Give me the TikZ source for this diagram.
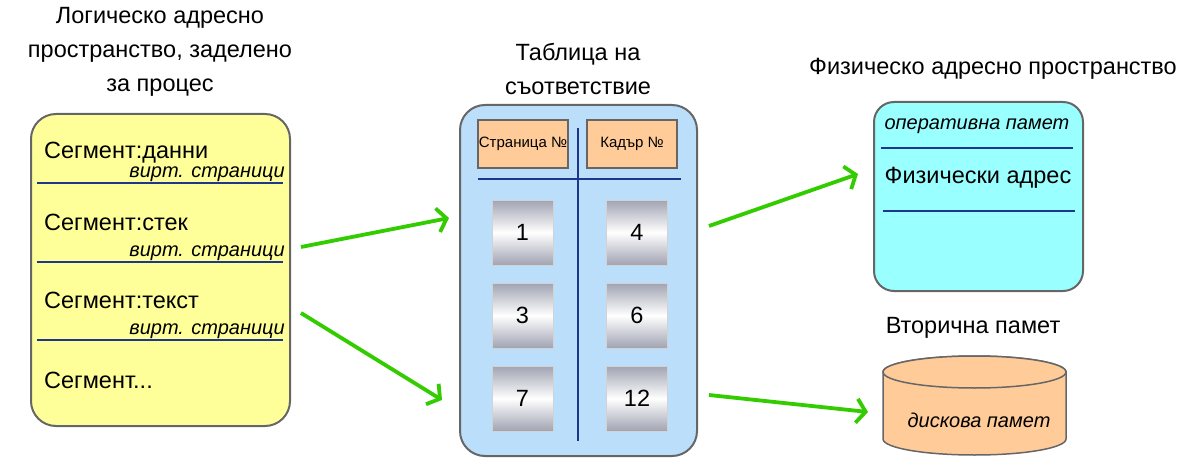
\documentclass[tikz,border=0pt]{standalone}
\usepackage{fontspec}
\setmainfont{Liberation Sans}
\usetikzlibrary{arrows.meta}

\definecolor{segyellow}{RGB}{255,255,153}
\definecolor{tableblue}{RGB}{187,222,251}
\definecolor{headpeach}{RGB}{255,204,153}
\definecolor{memcyan}{RGB}{153,255,255}
\definecolor{bordergray}{RGB}{102,102,102}
\definecolor{lineblue}{RGB}{30,55,140}
\definecolor{arrowgreen}{RGB}{51,204,0}
\definecolor{metalgray}{RGB}{160,163,178}

\tikzset{
  panel/.style={draw=bordergray, line width=2pt, inner sep=0pt},
  headbox/.style={draw=bordergray, line width=1.5pt, fill=headpeach, minimum width=90pt, minimum height=48pt, inner sep=0pt, font=\fontsize{15}{17}\selectfont},
  cellbox/.style={draw=gray!35, line width=0.6pt, top color=metalgray, bottom color=metalgray, middle color=white, minimum width=61pt, minimum height=65pt, inner sep=0pt, font=\fontsize{23.5}{27}\selectfont},
  divline/.style={lineblue, line width=2pt},
  greenarrow/.style={arrowgreen, line width=3.8pt, -{Straight Barb[length=9pt,width=24pt]}},
  title/.style={align=center, inner sep=0pt, font=\fontsize{23.5}{34}\selectfont},
  bigtext/.style={inner sep=0pt, font=\fontsize{23.5}{27}\selectfont},
  smalltext/.style={inner sep=0pt, font=\fontsize{20}{22}\selectfont\itshape}
}

\begin{document}
\begin{tikzpicture}[x=1pt, y=-1pt]
\useasboundingbox (0,0) rectangle (1189,476);

    %titles
    \node[title] (logtitle) at (160,52) {Логическо адресно\\пространство, заделено\\за процес};
    \node[title] (tabtitle) at (578,69) {Таблица на\\съответствие};
    \node[title] (phystitle) at (993,69) {Физическо адресно пространство};
    \node[title] (sectitle) at (973,328) {Вторична памет};

    %logical address space
    \node[panel, fill=segyellow, rounded corners=25pt, minimum width=259pt, minimum height=312pt] (logic) at (160.5,270) {};
    \node[bigtext, anchor=west] (segdata) at (44,153) {Сегмент:данни};
    \node[smalltext, anchor=east] (virt1) at (285,174.5) {вирт. страници};
    \draw[divline] (37,183) -- (283,183);
    \node[bigtext, anchor=west] (segstack) at (44,222) {Сегмент:стек};
    \node[smalltext, anchor=east] (virt2) at (285,253.5) {вирт. страници};
    \draw[divline] (37,262) -- (283,262);
    \node[bigtext, anchor=west] (segtext) at (44,300) {Сегмент:текст};
    \node[smalltext, anchor=east] (virt3) at (285,331.5) {вирт. страници};
    \draw[divline] (37,340) -- (283,340);
    \node[bigtext, anchor=west] (segmore) at (44,380) {Сегмент...};

    %page table
    \node[panel, fill=tableblue, rounded corners=25pt, minimum width=237pt, minimum height=351pt] (table) at (578.5,280.5) {};
    \node[headbox] (pagehead) at (523,144) {Страница №};
    \node[headbox] (framehead) at (632,144) {Кадър №};
    \draw[divline] (478,179) -- (681,179);
    \draw[divline] (578,128) -- (578,441);
    \foreach \pg/\fr [count=\i] in {1/4,3/6,7/12} {
        \node[cellbox] (page\i) at (522.5,{149.5+83*\i}) {\pg};
        \node[cellbox] (frame\i) at (637,{149.5+83*\i}) {\fr};
    }

    %physical memory
    \node[panel, fill=memcyan, rounded corners=20pt, minimum width=209pt, minimum height=189pt] (phys) at (978.5,196.5) {};
    \node[smalltext] (ram) at (977,126) {оперативна памет};
    \draw[divline] (881,148) -- (1073,148);
    \node[bigtext] (physaddr) at (978,178) {Физически адрес};
    \draw[divline] (883,211) -- (1075,211);

    %disk
    \filldraw[fill=headpeach, draw=bordergray, line width=1.5pt] (883,372) -- (883,439) arc[start angle=180, end angle=0, x radius=91.5, y radius=16] -- (1066,372) arc[start angle=0, end angle=-180, x radius=91.5, y radius=16] -- cycle;
    \filldraw[fill=headpeach, draw=bordergray, line width=1.5pt] (974.5,372) ellipse[x radius=91.5, y radius=16];
    \node[smalltext] (disk) at (979,420) {дискова памет};

    %arrows
    \coordinate (a1s) at (301,247);
    \coordinate (a1e) at (449,218);
    \coordinate (a2s) at (301,313);
    \coordinate (a2e) at (442,400);
    \coordinate (a3s) at (709,226);
    \coordinate (a3e) at (858,174);
    \coordinate (a4s) at (709,395);
    \coordinate (a4e) at (868,412);
    \draw[greenarrow] (a1s) -- (a1e);
    \draw[greenarrow] (a2s) -- (a2e);
    \draw[greenarrow] (a3s) -- (a3e);
    \draw[greenarrow] (a4s) -- (a4e);
\end{tikzpicture}
\end{document}
